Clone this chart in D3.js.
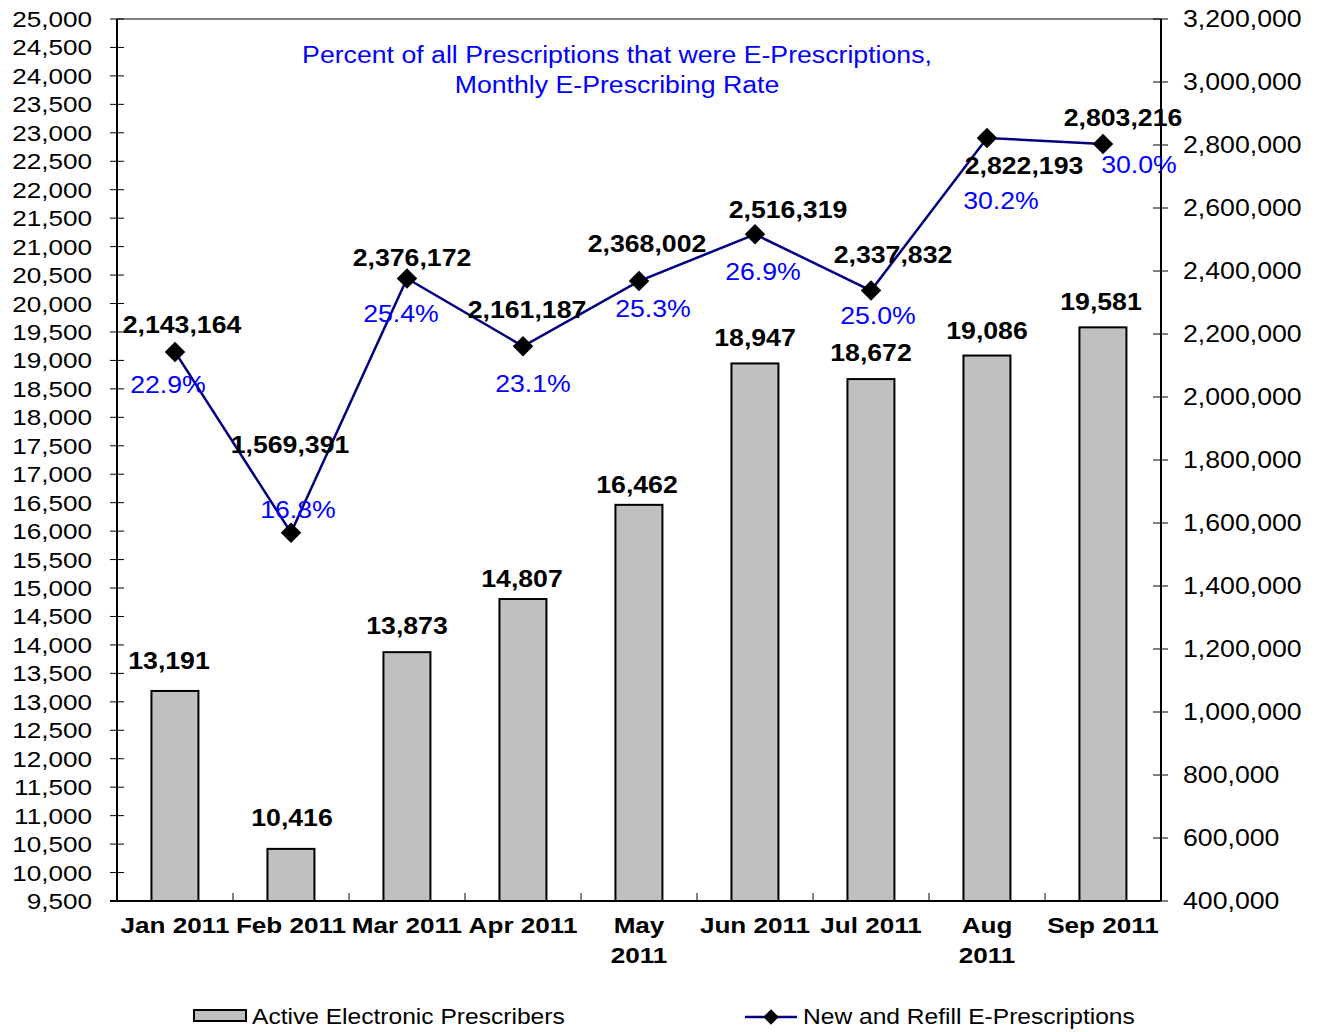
<!DOCTYPE html>
<html>
<head>
<meta charset="utf-8">
<script src="https://cdn.jsdelivr.net/npm/d3@7"></script>
<style>
  body { margin: 0; background: #fff; }
  text { font-family: "Liberation Sans", Arial, sans-serif; }
</style>
</head>
<body>
<svg id="chart" width="1318" height="1032"></svg>
<script>
// data
const months = ["Jan 2011", "Feb 2011", "Mar 2011", "Apr 2011", "May 2011", "Jun 2011", "Jul 2011", "Aug 2011", "Sep 2011"];
const wrapMonths = ["May 2011", "Aug 2011"];
const prescribers = [13191, 10416, 13873, 14807, 16462, 18947, 18672, 19086, 19581];
const eRx = [2143164, 1569391, 2376172, 2161187, 2368002, 2516319, 2337832, 2822193, 2803216];
const eRxRate = [22.9, 16.8, 25.4, 23.1, 25.3, 26.9, 25.0, 30.2, 30.0];
const leftDomain = [9500, 25000];
const leftStep = 500;
const rightDomain = [400000, 3200000];
const rightStep = 200000;
const titleLines = ["Percent of all Prescriptions that were E-Prescriptions,", "Monthly E-Prescribing Rate"];
const legendNames = ["Active Electronic Prescribers", "New and Refill E-Prescriptions"];

// label nudges (dx, dy) -- Excel put them by hand
const barLabelNudge = [[-6,-22],[1,-23],[0,-18],[-1,-12],[-2,-12],[0,-17],[0,-18],[0,-17],[-2,-17]];
const valueLabelNudge = [[7,-19],[-1,-80],[5,-13],[4,-28],[8,-29],[33,-16],[22,-28],[37,36],[20,-18]];
const rateLabelNudge = [[-7,41],[7,-15],[-6,43],[10,46],[14,36],[8,46],[7,33],[14,71],[36,29]];

const plot = {left: 117, right: 1161, top: 19, bottom: 901};
const sx = 1.16; // the picture is a bit wider than tall, text too

const svg = d3.select("#chart");

const x = d3.scaleBand().domain(months).range([plot.left, plot.right]);
const yL = d3.scaleLinear().domain(leftDomain).range([plot.bottom, plot.top]);
const yR = d3.scaleLinear().domain(rightDomain).range([plot.bottom, plot.top]);
const fmt = d3.format(",");

function put(sel, px, py) {
    return sel.attr("transform", `translate(${px},${py}) scale(${sx},1)`);
}

// top border
svg.append("line")
    .attr("x1", plot.left).attr("x2", plot.right)
    .attr("y1", plot.top).attr("y2", plot.top)
    .attr("stroke", "#808080").attr("stroke-width", 2);

// left axis
const leftTicks = d3.range(leftDomain[0], leftDomain[1] + 1, leftStep);
const gL = svg.append("g");
gL.selectAll("line.tick")
    .data(leftTicks)
    .join("line")
    .attr("x1", plot.left - 7).attr("x2", plot.left + 7)
    .attr("y1", d => yL(d)).attr("y2", d => yL(d))
    .attr("stroke", "#000").attr("stroke-width", 1);
gL.selectAll("text")
    .data(leftTicks)
    .join("text")
    .each(function(d){ put(d3.select(this), 92, yL(d) + 8); })
    .attr("text-anchor", "end")
    .attr("font-size", 22.5)
    .text(d => fmt(d));
gL.append("line")
    .attr("x1", plot.left).attr("x2", plot.left)
    .attr("y1", plot.top).attr("y2", plot.bottom)
    .attr("stroke", "#000").attr("stroke-width", 2);

// right axis
const rightTicks = d3.range(rightDomain[0], rightDomain[1] + 1, rightStep);
const gR = svg.append("g");
gR.selectAll("line.tick")
    .data(rightTicks)
    .join("line")
    .attr("x1", plot.right - 8).attr("x2", plot.right + 7)
    .attr("y1", d => yR(d)).attr("y2", d => yR(d))
    .attr("stroke", "#000").attr("stroke-width", 1);
gR.selectAll("text")
    .data(rightTicks)
    .join("text")
    .each(function(d){ put(d3.select(this), 1183, yR(d) + 8); })
    .attr("font-size", 23)
    .text(d => fmt(d));
gR.append("line")
    .attr("x1", plot.right).attr("x2", plot.right)
    .attr("y1", plot.top).attr("y2", plot.bottom)
    .attr("stroke", "#000").attr("stroke-width", 2);

// bars
svg.selectAll("rect.bar")
    .data(prescribers)
    .join("rect")
    .attr("class", "bar")
    .attr("x", (d,i) => x(months[i]) + x.bandwidth()*0.297)
    .attr("width", x.bandwidth()*0.405)
    .attr("y", d => yL(d))
    .attr("height", d => plot.bottom - yL(d))
    .attr("fill", "#c0c0c0")
    .attr("stroke", "#000")
    .attr("stroke-width", 2);

svg.selectAll("text.barlab")
    .data(prescribers)
    .join("text")
    .attr("class", "barlab")
    .each(function(d,i){
        put(d3.select(this), x(months[i]) + x.bandwidth()/2 + barLabelNudge[i][0], yL(d) + barLabelNudge[i][1]);
    })
    .attr("text-anchor", "middle")
    .attr("font-size", 23)
    .attr("font-weight", "bold")
    .text(d => fmt(d));

// x axis
svg.append("line")
    .attr("x1", plot.left - 7).attr("x2", plot.right)
    .attr("y1", plot.bottom).attr("y2", plot.bottom)
    .attr("stroke", "#000").attr("stroke-width", 2);
svg.selectAll("line.xtick")
    .data(months.slice(1))
    .join("line")
    .attr("class", "xtick")
    .attr("x1", d => x(d)).attr("x2", d => x(d))
    .attr("y1", plot.bottom - 8).attr("y2", plot.bottom)
    .attr("stroke", "#000").attr("stroke-width", 1);

const xl = svg.selectAll("text.xlab")
    .data(months)
    .join("text")
    .attr("class", "xlab")
    .each(function(d){ put(d3.select(this), x(d) + x.bandwidth()/2, 933); })
    .attr("text-anchor", "middle")
    .attr("font-size", 22.5)
    .attr("font-weight", "bold");
xl.each(function(d){
    const lines = wrapMonths.includes(d) ? d.split(" ") : [d];
    d3.select(this).selectAll("tspan")
        .data(lines)
        .join("tspan")
        .attr("x", 0)
        .attr("dy", (l,k) => k ? 30 : 0)
        .text(l => l);
});

// line + markers
const cx = i => x(months[i]) + x.bandwidth()/2;
const line = d3.line().x((d,i) => cx(i)).y(d => yR(d));
svg.append("path")
    .datum(eRx)
    .attr("d", line)
    .attr("fill", "none")
    .attr("stroke", "#000080")
    .attr("stroke-width", 2.5);

const diamond = d3.symbol(d3.symbolSquare, 210);
svg.selectAll("path.mark")
    .data(eRx)
    .join("path")
    .attr("class", "mark")
    .attr("d", diamond)
    .attr("transform", (d,i) => `translate(${cx(i)},${yR(d)}) rotate(45)`)
    .attr("fill", "#000");

svg.selectAll("text.vallab")
    .data(eRx)
    .join("text")
    .attr("class", "vallab")
    .each(function(d,i){ put(d3.select(this), cx(i) + valueLabelNudge[i][0], yR(d) + valueLabelNudge[i][1]); })
    .attr("text-anchor", "middle")
    .attr("font-size", 23)
    .attr("font-weight", "bold")
    .text(d => fmt(d));

svg.selectAll("text.ratelab")
    .data(eRxRate)
    .join("text")
    .attr("class", "ratelab")
    .each(function(d,i){ put(d3.select(this), cx(i) + rateLabelNudge[i][0], yR(eRx[i]) + rateLabelNudge[i][1]); })
    .attr("text-anchor", "middle")
    .attr("font-size", 23)
    .attr("fill", "#0000ff")
    .text(d => d.toFixed(1) + "%");

// title
svg.selectAll("text.title")
    .data(titleLines)
    .join("text")
    .attr("class", "title")
    .each(function(d,i){ put(d3.select(this), 617, 63 + i*30); })
    .attr("text-anchor", "middle")
    .attr("font-size", 23)
    .attr("fill", "#0000ff")
    .text(d => d);

// legend
const lg = svg.append("g");
lg.append("rect")
    .attr("x", 194).attr("y", 1010)
    .attr("width", 52).attr("height", 11)
    .attr("fill", "#c0c0c0").attr("stroke", "#000").attr("stroke-width", 2);
put(lg.append("text"), 252, 1024)
    .attr("font-size", 21.2)
    .text(legendNames[0]);
lg.append("line")
    .attr("x1", 745).attr("x2", 797)
    .attr("y1", 1017).attr("y2", 1017)
    .attr("stroke", "#000080").attr("stroke-width", 2.5);
lg.append("path")
    .attr("d", d3.symbol(d3.symbolSquare, 120))
    .attr("transform", "translate(771,1017) rotate(45)")
    .attr("fill", "#000");
put(lg.append("text"), 803, 1024)
    .attr("font-size", 21.2)
    .text(legendNames[1]);
</script>
</body>
</html>
